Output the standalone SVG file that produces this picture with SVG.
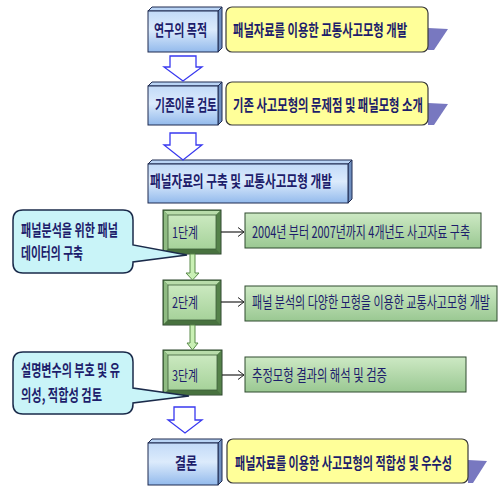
<svg xmlns="http://www.w3.org/2000/svg" width="498" height="486" viewBox="0 0 498 486">
<defs>
<linearGradient id="gBlue" x1="0" y1="0" x2="0" y2="1">
<stop offset="0" stop-color="#c2daf8"/><stop offset="0.45" stop-color="#dcebfc"/><stop offset="1" stop-color="#93baec"/>
</linearGradient>
<linearGradient id="gGreen" x1="0" y1="0" x2="0" y2="1">
<stop offset="0" stop-color="#cde9c4"/><stop offset="1" stop-color="#9ac892"/>
</linearGradient>
<linearGradient id="gStep" x1="0" y1="0" x2="0" y2="1">
<stop offset="0" stop-color="#cbe9c0"/><stop offset="1" stop-color="#a6d29a"/>
</linearGradient>
<marker id="open" markerWidth="8" markerHeight="10" refX="7" refY="5" orient="auto" markerUnits="userSpaceOnUse">
<path d="M1,0.5 L7,5 L1,9.5" fill="none" stroke="#222" stroke-width="1"/>
</marker>
</defs>
<style>
.t{font-family:"Noto Sans CJK KR","Noto Sans",sans-serif;fill:#1d1d6b;font-size:16px}
.s{font-size:15px}
.b{font-weight:bold}
.face{fill:url(#gBlue);stroke:#1e2a50;stroke-width:1}
.top{fill:#b9d4f5;stroke:#1e2a50;stroke-width:1}
.side{fill:#6f8fc0;stroke:#1e2a50;stroke-width:1}
.yel{fill:#ffff99;stroke:#3a3a3a;stroke-width:1.2}
.shd{fill:#7878c0}
.hollow{fill:#fff;stroke:#3838f0;stroke-width:1.3}
.gbox{fill:url(#gGreen);stroke:#2f4a2f;stroke-width:1}
.so{fill:#5f8c54;stroke:#2b452b;stroke-width:1}
.sf{fill:url(#gStep);stroke:#3e5e3a;stroke-width:0.8}
.bt{fill:#b8dcaa}.bl{fill:#8fbb82}.br{fill:#55824a}.bb{fill:#48723f}
.garrow{fill:#c9f0b4;stroke:#5a8a4a;stroke-width:1}
.call{fill:#c9f4f8;stroke:#1a2a4a;stroke-width:1.5}
.conn{stroke:#222;stroke-width:1.2;fill:none}
</style>

<g id="purpose">
<polygon class="top" points="148,11 152,7 222,7 218,11"/>
<polygon class="side" points="218,11 222,7 222,48 218,52"/>
<rect class="face" x="148" y="11" width="70" height="41"/>
<text class="t b" transform="translate(154,36) scale(0.635,1)" textLength="83.5" lengthAdjust="spacingAndGlyphs">연구의 목적</text>
</g>
<g id="purpose-desc">
<polygon class="shd" points="428,28 448,29 434,50 428,50"/>
<rect class="yel" x="226" y="7" width="202" height="45" rx="6"/>
<text class="t b" transform="translate(233,36) scale(0.662,1)" textLength="263" lengthAdjust="spacingAndGlyphs">패널자료를 이용한 교통사고모형 개발</text>
</g>

<g id="review">
<polygon class="top" points="148,86 152,82 222,82 218,86"/>
<polygon class="side" points="218,86 222,82 222,121 218,125"/>
<rect class="face" x="148" y="86" width="70" height="39"/>
<text class="t b" transform="translate(155,111) scale(0.623,1)" textLength="99.5" lengthAdjust="spacingAndGlyphs">기존이론 검토</text>
</g>
<g id="review-desc">
<polygon class="shd" points="428,103 448,104 434,125 428,125"/>
<rect class="yel" x="226" y="82" width="202" height="43" rx="6"/>
<text class="t b" transform="translate(233,111) scale(0.655,1)" textLength="290" lengthAdjust="spacingAndGlyphs">기존 사고모형의 문제점 및 패널모형 소개</text>
</g>

<g id="build">
<polygon class="top" points="148,164 152,160 352,160 348,164"/>
<polygon class="side" points="348,164 352,160 352,199 348,203"/>
<rect class="face" x="148" y="164" width="200" height="39"/>
<text class="t b" transform="translate(150,187) scale(0.674,1)" textLength="270" lengthAdjust="spacingAndGlyphs">패널자료의 구축 및 교통사고모형 개발</text>
</g>

<g id="step1">
<rect class="so" x="163" y="210" width="58" height="44"/>
<polygon class="bt" points="164,211 220,211 216,215 168,215"/>
<polygon class="bl" points="164,211 168,215 168,249 164,253"/>
<polygon class="br" points="220,211 220,253 216,249 216,215"/>
<polygon class="bb" points="164,253 168,249 216,249 220,253"/>
<rect class="sf" x="168" y="215" width="48" height="34"/>
<text class="t s" transform="translate(172,238) scale(0.684,1)" textLength="38" lengthAdjust="spacingAndGlyphs">1단계</text>
</g>
<g id="step1-desc">
<rect class="gbox" x="245" y="213" width="236" height="35"/>
<text class="t" transform="translate(252,238) scale(0.679,1)" textLength="321" lengthAdjust="spacingAndGlyphs">2004년 부터 2007년까지 4개년도 사고자료 구축</text>
</g>

<g id="step2">
<rect class="so" x="163" y="280" width="58" height="45"/>
<polygon class="bt" points="164,281 220,281 216,285 168,285"/>
<polygon class="bl" points="164,281 168,285 168,320 164,324"/>
<polygon class="br" points="220,281 220,324 216,320 216,285"/>
<polygon class="bb" points="164,324 168,320 216,320 220,324"/>
<rect class="sf" x="168" y="285" width="48" height="35"/>
<text class="t s" transform="translate(172,308) scale(0.684,1)" textLength="38" lengthAdjust="spacingAndGlyphs">2단계</text>
</g>
<g id="step2-desc">
<rect class="gbox" x="245" y="286" width="252" height="35"/>
<text class="t" transform="translate(252,308) scale(0.638,1)" textLength="373" lengthAdjust="spacingAndGlyphs">패널 분석의 다양한 모형을 이용한 교통사고모형 개발</text>
</g>

<g id="step3">
<rect class="so" x="163" y="350" width="59" height="45"/>
<polygon class="bt" points="164,351 221,351 217,355 168,355"/>
<polygon class="bl" points="164,351 168,355 168,390 164,394"/>
<polygon class="br" points="221,351 221,394 217,390 217,355"/>
<polygon class="bb" points="164,394 168,390 217,390 221,394"/>
<rect class="sf" x="168" y="355" width="49" height="35"/>
<text class="t s" transform="translate(172,381) scale(0.684,1)" textLength="38" lengthAdjust="spacingAndGlyphs">3단계</text>
</g>
<g id="step3-desc">
<rect class="gbox" x="245" y="357" width="221" height="35"/>
<text class="t" transform="translate(252,381) scale(0.655,1)" textLength="206" lengthAdjust="spacingAndGlyphs">추정모형 결과의 해석 및 검증</text>
</g>

<g id="conclusion">
<polygon class="top" points="148,443 152,439 222,439 218,443"/>
<polygon class="side" points="218,443 222,439 222,481 218,485"/>
<rect class="face" x="148" y="443" width="70" height="42"/>
<text class="t b" transform="translate(175,469) scale(0.6875,1)" textLength="32" lengthAdjust="spacingAndGlyphs">결론</text>
</g>
<g id="conclusion-desc">
<polygon class="shd" points="468,460 487,461 473,483 468,483"/>
<rect class="yel" x="227" y="439" width="241" height="44" rx="6"/>
<text class="t b" transform="translate(235,469) scale(0.642,1)" textLength="338" lengthAdjust="spacingAndGlyphs">패널자료를 이용한 사고모형의 적합성 및 우수성</text>
</g>

<g id="connectors">
<polygon class="hollow" points="170,56 196,56 196,67 202,67 183,81 164,67 170,67"/>
<polygon class="hollow" points="170,133 196,133 196,145 202,145 183,160 164,145 170,145"/>
<polygon class="hollow" points="174,407 195,407 195,420 202,420 185,433 168,420 174,420"/>
<polygon class="garrow" points="190,254 195,254 195,273 199,273 192.5,280 186,273 190,273"/>
<polygon class="garrow" points="190,325 195,325 195,343 198,343 192.5,350 187,343 190,343"/>
<line class="conn" x1="221" y1="232" x2="244" y2="232" marker-end="url(#open)"/>
<line class="conn" x1="221" y1="302" x2="244" y2="302" marker-end="url(#open)"/>
<line class="conn" x1="222" y1="375" x2="244" y2="375" marker-end="url(#open)"/>
</g>

<g id="callout1">
<path class="call" d="M23,210 H123 Q133,210 133,220 V245 L187,255 L133,262 V263 Q133,273 123,273 H23 Q13,273 13,263 V220 Q13,210 23,210 Z"/>
<text class="t b" transform="translate(21,236) scale(0.642,1)" textLength="151" lengthAdjust="spacingAndGlyphs">패널분석을 위한 패널</text>
<text class="t b" transform="translate(21,259) scale(0.623,1)" textLength="99.5" lengthAdjust="spacingAndGlyphs">데이터의 구축</text>
</g>
<g id="callout2">
<path class="call" d="M23,352 H123 Q133,352 133,362 V388 L189,396 L133,403 V404 Q133,414 123,414 H23 Q13,414 13,404 V362 Q13,352 23,352 Z"/>
<text class="t b" transform="translate(21,376) scale(0.64,1)" textLength="154.6" lengthAdjust="spacingAndGlyphs">설명변수의 부호 및 유</text>
<text class="t b" transform="translate(21,401) scale(0.653,1)" textLength="124" lengthAdjust="spacingAndGlyphs">의성, 적합성 검토</text>
</g>
</svg>
